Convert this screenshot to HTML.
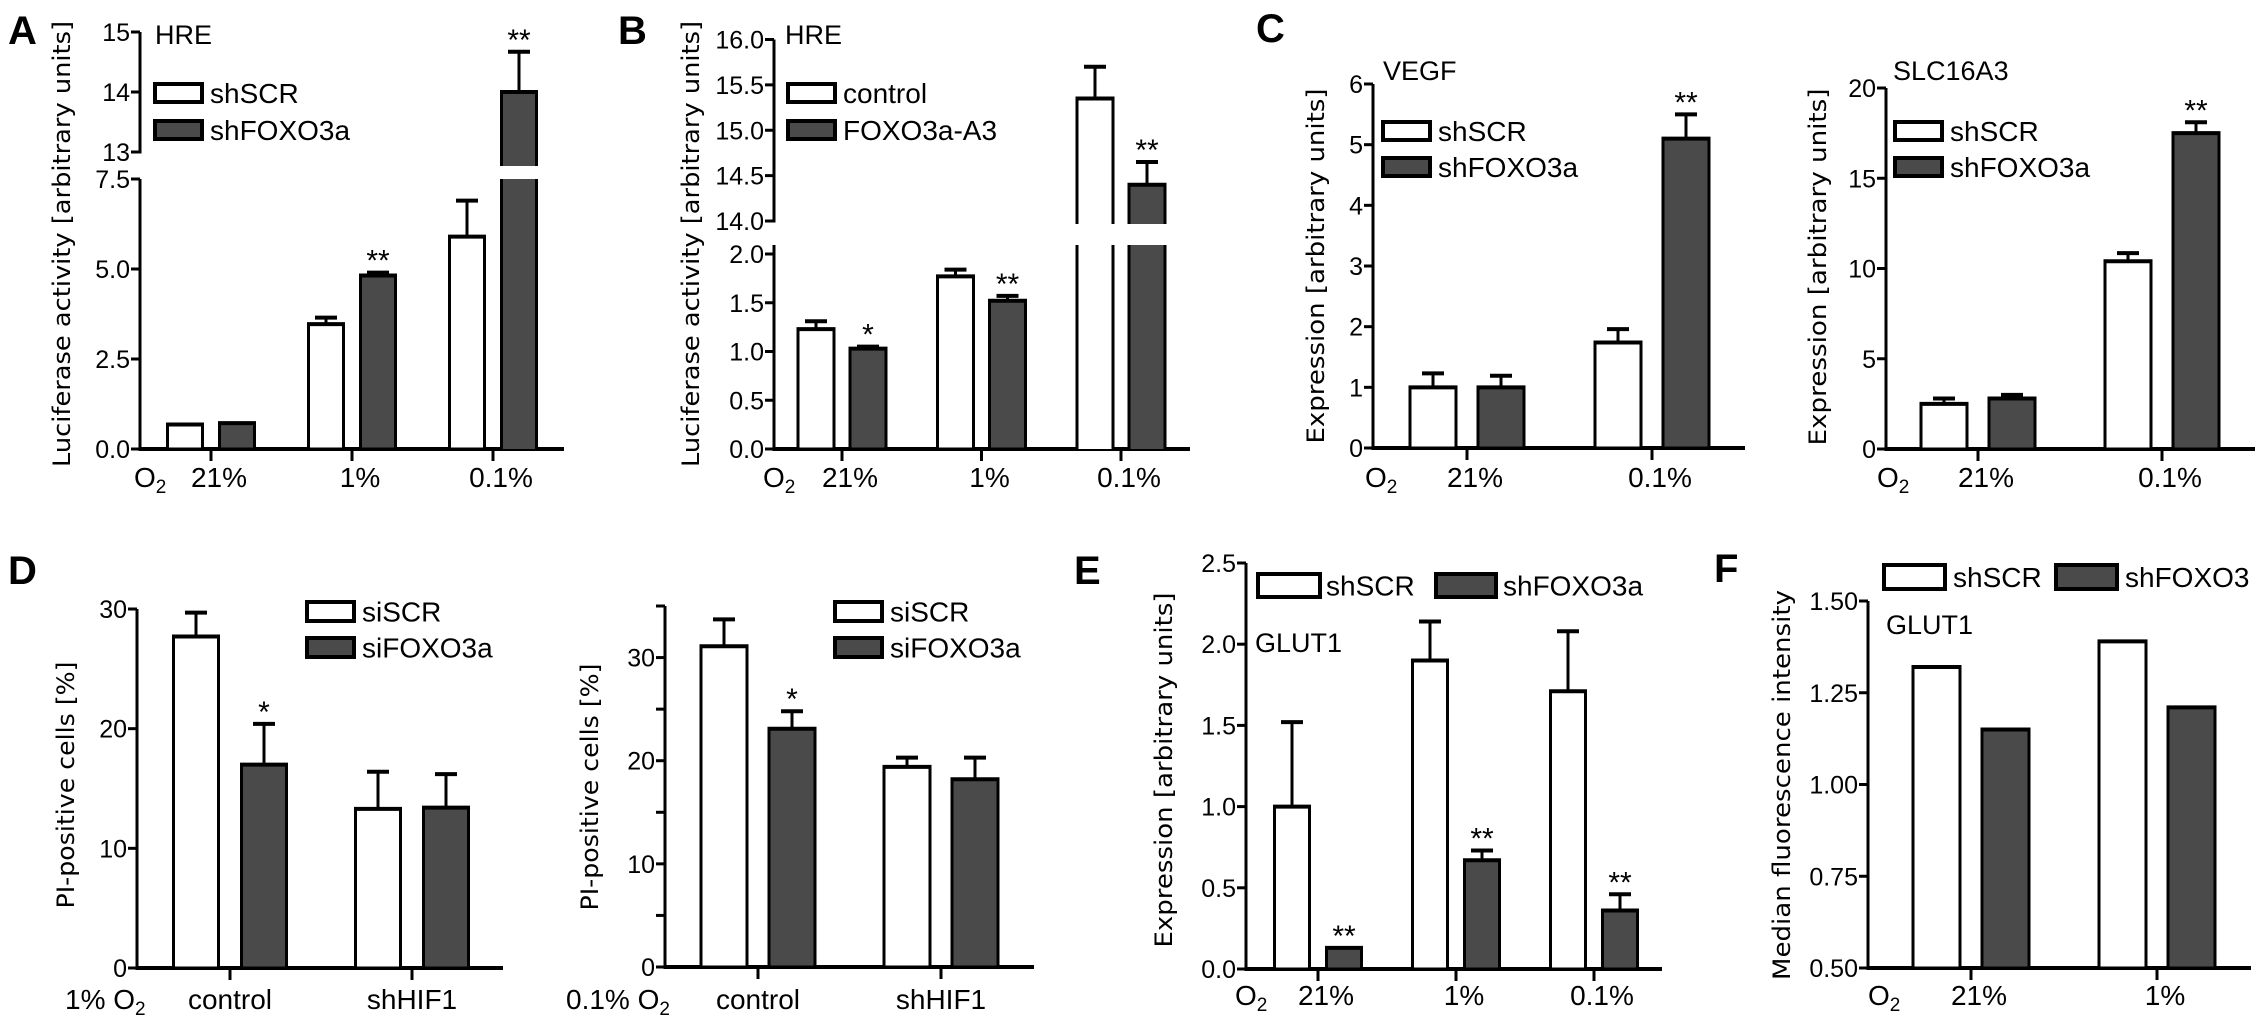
<!DOCTYPE html>
<html><head><meta charset="utf-8"><style>
html,body{margin:0;padding:0;background:#fff;}
svg{display:block;}
text{font-family:"Liberation Sans",sans-serif;fill:#000;}
.yt{font-family:"DejaVu Sans","Liberation Sans",sans-serif;}
</style></head><body>
<svg id="fig" width="2268" height="1033" viewBox="0 0 2268 1033" xmlns="http://www.w3.org/2000/svg"></svg>
<script>
// ---- data ----
const aCats = ['21%','1%','0.1%'];
const aWhite = [0.68, 3.47, 5.9];
const aWhiteErr = [0.68, 3.65, 6.9];
const aDark = [0.72, 4.82, 14.0];
const aDarkErr = [0.72, 4.9, 14.67];
const aDarkSig = ['', '**', '**'];

const bCats = ['21%','1%','0.1%'];
const bWhite = [1.23, 1.77, 15.35];
const bWhiteErr = [1.31, 1.84, 15.7];
const bDark = [1.03, 1.52, 14.4];
const bDarkErr = [1.05, 1.57, 14.65];
const bDarkSig = ['*', '**', '**'];

const c1Cats = ['21%','0.1%'];
const c1White = [1.0, 1.74];
const c1WhiteErr = [1.23, 1.96];
const c1Dark = [1.0, 5.1];
const c1DarkErr = [1.19, 5.5];
const c1DarkSig = ['', '**'];

const c2Cats = ['21%','0.1%'];
const c2White = [2.5, 10.4];
const c2WhiteErr = [2.8, 10.85];
const c2Dark = [2.8, 17.5];
const c2DarkErr = [3.0, 18.1];
const c2DarkSig = ['', '**'];

const d1Cats = ['control','shHIF1'];
const d1White = [27.7, 13.3];
const d1WhiteErr = [29.7, 16.4];
const d1Dark = [17.0, 13.4];
const d1DarkErr = [20.4, 16.2];
const d1DarkSig = ['*', ''];

const d2Cats = ['control','shHIF1'];
const d2White = [31.1, 19.4];
const d2WhiteErr = [33.7, 20.3];
const d2Dark = [23.1, 18.2];
const d2DarkErr = [24.8, 20.3];
const d2DarkSig = ['*', ''];

const eCats = ['21%','1%','0.1%'];
const eWhite = [1.0, 1.9, 1.71];
const eWhiteErr = [1.52, 2.14, 2.08];
const eDark = [0.13, 0.67, 0.36];
const eDarkErr = [0.13, 0.73, 0.46];
const eDarkSig = ['**', '**', '**'];

const fCats = ['21%','1%'];
const fWhite = [1.32, 1.39];
const fDark = [1.15, 1.21];

const aTicksLow = [0, 2.5, 5, 7.5];
const aTickLabelsLow = ['0.0','2.5','5.0','7.5'];
const aTicksHigh = [13, 14, 15];
const aTickLabelsHigh = ['13','14','15'];
const bTicksLow = [0, 0.5, 1, 1.5, 2];
const bTickLabelsLow = ['0.0','0.5','1.0','1.5','2.0'];
const bTicksHigh = [14, 14.5, 15, 15.5, 16];
const bTickLabelsHigh = ['14.0','14.5','15.0','15.5','16.0'];
const c1Ticks = [0,1,2,3,4,5,6];
const c1TickLabels = ['0','1','2','3','4','5','6'];
const c2Ticks = [0,5,10,15,20];
const c2TickLabels = ['0','5','10','15','20'];
const d1Ticks = [0,10,20,30];
const d1TickLabels = ['0','10','20','30'];
const d2Ticks = [0,10,20,30];
const d2TickLabels = ['0','10','20','30'];
const d2Minor = [5,15,25,35];
const eTicks = [0,0.5,1,1.5,2,2.5];
const eTickLabels = ['0.0','0.5','1.0','1.5','2.0','2.5'];
const fTicks = [0.5,0.75,1,1.25,1.5];
const fTickLabels = ['0.50','0.75','1.00','1.25','1.50'];

// ---- drawing ----
const NS = 'http://www.w3.org/2000/svg';
const svg = document.getElementById('fig');
const DARK = '#4a4a4a';
function mk(tag, attrs, parent){
  const e = document.createElementNS(NS, tag);
  for (const k in attrs) e.setAttribute(k, attrs[k]);
  (parent||svg).appendChild(e);
  return e;
}
function line(g,x1,y1,x2,y2,w){ return mk('line',{x1,y1,x2,y2,stroke:'#000','stroke-width':w||3},g); }
function txt(g,x,y,s,size,anchor,extra){
  const t = mk('text',Object.assign({x,y,'font-size':size,'text-anchor':anchor||'start'},extra||{}),g);
  t.textContent = s; return t;
}
function scaleFn(segs){
  return function(v){
    let s = segs[0];
    for (const sg of segs){ if (v >= sg.v0) s = sg; }
    return s.p0 + (v - s.v0) * (s.p1 - s.p0) / (s.v1 - s.v0);
  };
}
function drawPanel(c){
  const g = mk('g',{});
  
  
  const y = scaleFn(c.segs);
  const base = c.segs[0].p0;
  c.segs.forEach(s=>{
    const l = line(g, c.ax, s.p0 + 1.5, c.ax, (s.top!==undefined?s.top:s.p1));
    
    
  });
  c.ticks.forEach((tv,i)=>{
    const py = y(tv);
    line(g, c.ax-9, py, c.ax, py, 3);
    const t = txt(g, c.ax-10, py+9, c.tickLabels[i], 25, 'end');
    
    
  });
  (c.minor||[]).forEach(tv=>{ const py=y(tv); line(g,c.ax-9,py,c.ax,py,3); });
  const xa = line(g, c.ax-1.5, base, c.xEnd, base, 4);
  
  
  c.cats.forEach((cat,i)=>{
    const cx = c.cat0 + i*c.step;
    line(g, cx, base, cx, base+12, 3);
    const cl = txt(g, cx + (c.catShift||0), c.labY, cat, 28, 'middle');
    
    
    [['white',c.white,c.whiteErr,'#fff',-c.off,null],['dark',c.dark,c.darkErr,DARK,c.off,c.sig]].forEach(sr=>{
      const v = sr[1][i];
      const bx = cx + sr[4] - c.bw/2;
      const top = y(v);
      const bg = mk('g',{},g);
      
      
      if (c.gap && v > c.segs[0].v1){
        mk('rect',{x:bx,y:top,width:c.bw,height:c.gap[0]-top,fill:sr[3]},bg);
        mk('rect',{x:bx,y:c.gap[1],width:c.bw,height:base-c.gap[1],fill:sr[3]},bg);
        line(bg,bx,top,bx,c.gap[0]); line(bg,bx+c.bw,top,bx+c.bw,c.gap[0]);
        line(bg,bx,c.gap[1],bx,base); line(bg,bx+c.bw,c.gap[1],bx+c.bw,base);
        line(bg,bx-1.5,top,bx+c.bw+1.5,top,4);
      } else {
        mk('rect',{x:bx,y:top,width:c.bw,height:base-top,fill:sr[3],stroke:'#000','stroke-width':3},bg);
        line(bg,bx-1.5,top,bx+c.bw+1.5,top,4);
      }
      let topMark = top;
      if (sr[2]){
        const et = y(sr[2][i]);
        if (et < top - 1){
          const cxm = bx + c.bw/2;
          const eb = mk('g',{},g);
          
          
          line(eb, cxm, top, cxm, et, 3);
          line(eb, cxm-11, et, cxm+11, et, 4);
          topMark = et;
        }
      }
      if (sr[5] && sr[5][i]){
        const st = txt(g, bx + c.bw/2, topMark - 2, sr[5][i], 30, 'middle');
        
        
      }
    });
  });
  if (c.o2){
    const t = txt(g, c.o2.x, c.labY, c.o2.pre||'', 28, 'start');
    
    
    const o = mk('tspan',{},t); o.textContent='O';
    const s = mk('tspan',{'font-size':19,dy:6},t); s.textContent='2';
  }
  const yt = txt(g, c.yt.x, c.yt.y, c.yt.s, 24, 'middle',
    {class:'yt',transform:'rotate(-90 '+c.yt.x+' '+c.yt.y+')',textLength:c.yt.len,lengthAdjust:'spacingAndGlyphs'});
  
  
  if (c.title){
    const tt = txt(g, c.title.x, c.title.y, c.title.s, 27, 'start');
    
    
  }
  c.legend.forEach((L,i)=>{
    const lg = mk('g',{},g);
    
    
    mk('rect',{x:L.x,y:L.y,width:L.w,height:L.h,fill:i?DARK:'#fff',stroke:'#000','stroke-width':4},lg);
    txt(lg, L.tx, L.y+L.h/2+10, L.s, 28, 'start');
  });
  const pl = txt(g, c.letter.x, c.letter.y, c.letter.s, 40, 'start', {'font-weight':'bold'});
  
  
}

function vLegend(x,tx,y1,y2,h,s1,s2){
  return [{x:x,y:y1,w:47,h:h,tx:tx,s:s1},{x:x,y:y2,w:47,h:h,tx:tx,s:s2}];
}

drawPanel({name:'panel-a-hre-chart',
  segs:[{v0:0,v1:7.5,p0:449,p1:179},{v0:13,v1:15,p0:152,p1:32}],
  ax:140, xEnd:564, cat0:211, step:141, off:26, bw:35, gap:[166,179],
  ticks:aTicksLow.concat(aTicksHigh), tickLabels:aTickLabelsLow.concat(aTickLabelsHigh),
  cats:aCats, white:aWhite, whiteErr:aWhiteErr, dark:aDark, darkErr:aDarkErr, sig:aDarkSig,
  labY:487, catShift:8, o2:{x:134},
  yt:{x:70,y:244,s:'Luciferase activity [arbitrary units]',len:446},
  title:{x:155,y:44,s:'HRE'},
  legend:vLegend(155,210,84,121,18,'shSCR','shFOXO3a'),
  letter:{x:8,y:44,s:'A'}});

drawPanel({name:'panel-b-hre-chart',
  segs:[{v0:0,v1:2,p0:449,p1:254,top:245},{v0:14,v1:16,p0:221,p1:39.5}],
  ax:774, xEnd:1190, cat0:842, step:139.5, off:26, bw:36, gap:[224,245],
  ticks:bTicksLow.concat(bTicksHigh), tickLabels:bTickLabelsLow.concat(bTickLabelsHigh),
  cats:bCats, white:bWhite, whiteErr:bWhiteErr, dark:bDark, darkErr:bDarkErr, sig:bDarkSig,
  labY:487, catShift:8, o2:{x:763},
  yt:{x:699,y:244,s:'Luciferase activity [arbitrary units]',len:446},
  title:{x:785,y:44,s:'HRE'},
  legend:vLegend(788,843,84,121,18,'control','FOXO3a-A3'),
  letter:{x:618,y:44,s:'B'}});

drawPanel({name:'panel-c-vegf-chart',
  segs:[{v0:0,v1:6,p0:448,p1:84}],
  ax:1373, xEnd:1745, cat0:1467, step:185, off:34, bw:46,
  ticks:c1Ticks, tickLabels:c1TickLabels,
  cats:c1Cats, white:c1White, whiteErr:c1WhiteErr, dark:c1Dark, darkErr:c1DarkErr, sig:c1DarkSig,
  labY:487, catShift:8, o2:{x:1365},
  yt:{x:1324,y:266,s:'Expression [arbitrary units]',len:355},
  title:{x:1383,y:80,s:'VEGF'},
  legend:vLegend(1383,1438,122,158,18,'shSCR','shFOXO3a'),
  letter:{x:1256,y:42,s:'C'}});

drawPanel({name:'panel-c-slc16a3-chart',
  segs:[{v0:0,v1:20,p0:449,p1:88}],
  ax:1886, xEnd:2255, cat0:1978, step:184, off:34, bw:46,
  ticks:c2Ticks, tickLabels:c2TickLabels,
  cats:c2Cats, white:c2White, whiteErr:c2WhiteErr, dark:c2Dark, darkErr:c2DarkErr, sig:c2DarkSig,
  labY:487, catShift:8, o2:{x:1877},
  yt:{x:1826,y:267,s:'Expression [arbitrary units]',len:357},
  title:{x:1893,y:80,s:'SLC16A3'},
  legend:vLegend(1895,1950,122,158,18,'shSCR','shFOXO3a'),
  letter:{x:-100,y:-100,s:''}});

drawPanel({name:'panel-d-1pct-chart',
  segs:[{v0:0,v1:30,p0:968,p1:609}],
  ax:137, xEnd:503, cat0:230, step:182, off:34, bw:45,
  ticks:d1Ticks, tickLabels:d1TickLabels,
  cats:d1Cats, white:d1White, whiteErr:d1WhiteErr, dark:d1Dark, darkErr:d1DarkErr, sig:d1DarkSig,
  labY:1009, o2:{x:65,pre:'1% '},
  yt:{x:74,y:785,s:'PI-positive cells [%]',len:247},
  legend:vLegend(307,362,602,638,19,'siSCR','siFOXO3a'),
  letter:{x:8,y:584,s:'D'}});

drawPanel({name:'panel-d-01pct-chart',
  segs:[{v0:0,v1:35,p0:967,p1:606}],
  ax:665, xEnd:1034, cat0:758, step:183, off:34, bw:46,
  ticks:d2Ticks, tickLabels:d2TickLabels, minor:d2Minor,
  cats:d2Cats, white:d2White, whiteErr:d2WhiteErr, dark:d2Dark, darkErr:d2DarkErr, sig:d2DarkSig,
  labY:1009, o2:{x:566,pre:'0.1% '},
  yt:{x:598,y:787,s:'PI-positive cells [%]',len:247},
  legend:vLegend(835,890,602,638,19,'siSCR','siFOXO3a'),
  letter:{x:-100,y:-100,s:''}});

drawPanel({name:'panel-e-glut1-chart',
  segs:[{v0:0,v1:2.5,p0:969,p1:563}],
  ax:1246, xEnd:1662, cat0:1318, step:138, off:26, bw:35,
  ticks:eTicks, tickLabels:eTickLabels,
  cats:eCats, white:eWhite, whiteErr:eWhiteErr, dark:eDark, darkErr:eDarkErr, sig:eDarkSig,
  labY:1005, catShift:8, o2:{x:1235},
  yt:{x:1172,y:770,s:'Expression [arbitrary units]',len:355},
  title:{x:1255,y:652,s:'GLUT1'},
  legend:[{x:1258,y:574,w:62,h:23,tx:1326,s:'shSCR'},{x:1436,y:574,w:60,h:23,tx:1503,s:'shFOXO3a'}],
  letter:{x:1074,y:584,s:'E'}});

drawPanel({name:'panel-f-glut1-facs-chart',
  segs:[{v0:0.5,v1:1.5,p0:968,p1:601}],
  ax:1868, xEnd:2251, cat0:1971, step:186, off:34.5, bw:47,
  ticks:fTicks, tickLabels:fTickLabels,
  cats:fCats, white:fWhite, whiteErr:null, dark:fDark, darkErr:null, sig:null,
  labY:1005, catShift:8, o2:{x:1868},
  yt:{x:1790,y:785,s:'Median fluorescence intensity',len:390},
  title:{x:1886,y:634,s:'GLUT1'},
  legend:[{x:1884,y:565,w:61,h:24,tx:1953,s:'shSCR'},{x:2056,y:565,w:61,h:24,tx:2125,s:'shFOXO3'}],
  letter:{x:1714,y:582,s:'F'}});
</script>
</body></html>
